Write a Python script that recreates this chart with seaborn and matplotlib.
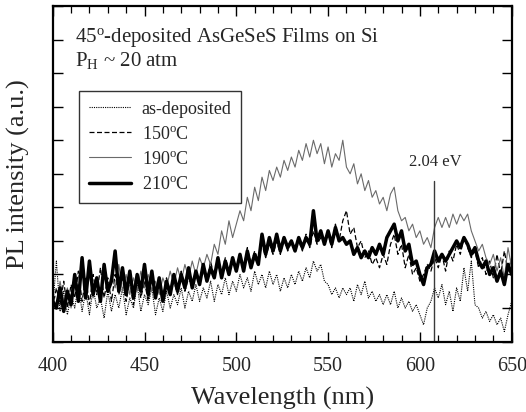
import numpy as np
import pandas as pd
import matplotlib
matplotlib.use("Agg")
import matplotlib.pyplot as plt
from matplotlib.ticker import MultipleLocator
import seaborn as sns

# Wavelength grid (nm), 2 nm steps
wavelength = np.arange(400, 651, 2)

# PL spectra (arbitrary units)
as_deposited = [
    1.0, 2.4, 0.9, 1.5, 0.8, 1.4, 1.0, 1.7, 0.9, 1.5, 0.8, 1.6, 1.0, 1.3, 0.7, 1.5,
    0.9, 1.4, 1.0, 1.6, 0.8, 1.3, 1.0, 1.7, 0.9, 1.4, 1.1, 1.6, 0.8, 1.3, 0.9, 1.5,
    1.0, 1.4, 1.1, 1.6, 1.0, 1.5, 1.2, 1.7, 1.2, 1.6, 1.3, 1.8, 1.2, 1.7, 1.4, 1.9,
    1.4, 1.8, 1.5, 2.0, 1.6, 1.9, 1.5, 2.1, 1.7, 2.0, 1.6, 2.1, 1.7, 2.0, 1.5, 1.9,
    1.6, 2.0, 1.7, 2.1, 1.8, 2.2, 1.9, 2.4, 2.1, 2.3, 1.8, 1.7, 1.4, 1.6, 1.3, 1.6,
    1.4, 1.6, 1.2, 1.7, 1.4, 1.8, 1.3, 1.5, 1.2, 1.4, 1.1, 1.4, 1.1, 1.5, 1.0, 1.3,
    1.0, 1.2, 0.9, 1.1, 0.8, 0.5, 1.0, 1.2, 1.6, 1.3, 1.7, 1.1, 1.5, 0.9, 1.6, 1.2,
    2.2, 1.5, 2.4, 1.1, 1.0, 0.7, 0.9, 0.6, 0.8, 0.5, 0.7, 0.3, 0.8, 1.2,
]
t150 = [
    1.0, 1.6, 1.1, 1.8, 1.0, 1.7, 1.3, 2.1, 1.2, 1.9, 1.1, 2.0, 1.4, 2.2, 1.3, 1.9,
    1.2, 2.0, 1.4, 1.9, 1.2, 1.8, 1.1, 1.9, 1.3, 1.8, 1.2, 1.9, 1.4, 1.7, 1.3, 1.9,
    1.5, 1.8, 1.4, 2.1, 1.5, 1.9, 1.6, 2.0, 1.7, 2.1, 1.8, 2.4, 1.9, 2.3, 2.0, 2.5,
    2.1, 2.4, 2.2, 2.5, 2.2, 2.8, 2.3, 2.7, 2.4, 2.9, 2.5, 2.9, 2.6, 3.0, 2.6, 3.1,
    2.7, 3.0, 2.8, 3.0, 2.7, 3.2, 2.8, 3.3, 2.9, 3.1, 3.0, 3.2, 2.8, 3.5, 3.0, 3.6,
    3.9, 3.2, 3.4, 2.8, 3.0, 2.5, 2.7, 2.3, 2.5, 2.2, 2.6, 2.3, 2.9, 3.2, 2.6, 2.9,
    2.2, 2.6, 2.0, 2.2, 1.8, 2.0, 2.3, 2.1, 2.5, 2.2, 2.6, 2.1, 2.7, 2.4, 2.9, 2.6,
    3.1, 2.8, 2.5, 2.7, 2.2, 2.5, 2.0, 2.4, 1.9, 2.6, 2.0, 2.7, 2.1, 2.5,
]
t190 = [
    1.4, 1.0, 1.8, 1.2, 1.6, 1.0, 1.9, 1.3, 2.2, 1.5, 2.0, 1.3, 1.8, 1.4, 2.1, 1.6,
    2.0, 1.6, 2.3, 1.5, 2.0, 1.4, 1.9, 1.5, 2.1, 1.6, 2.0, 1.5, 1.8, 1.4, 1.9, 1.6,
    2.1, 1.7, 2.2, 1.8, 2.3, 1.9, 2.4, 2.0, 2.5, 2.2, 2.6, 2.3, 2.9, 2.6, 3.3, 2.9,
    3.6, 3.1, 3.5, 3.9, 3.6, 4.3, 3.9, 4.6, 4.2, 4.9, 4.5, 5.1, 4.8, 5.2, 4.9, 5.4,
    5.1, 5.5, 5.2, 5.7, 5.4, 5.9, 5.5, 6.0, 5.6, 5.9, 5.3, 5.8, 5.2, 5.6, 5.4, 6.0,
    5.2, 5.0, 5.3, 4.7, 5.0, 4.5, 4.8, 4.3, 4.5, 4.1, 4.3, 3.9, 4.4, 4.6, 3.9, 3.6,
    3.7, 3.3, 3.5, 3.1, 3.3, 2.9, 3.1, 2.8, 3.4, 3.7, 3.4, 3.7, 3.4, 3.8, 3.5, 3.8,
    3.6, 3.8, 3.3, 3.0, 2.7, 2.9, 2.5, 2.3, 2.6, 2.1, 2.5, 1.9, 2.8, 2.2,
]
t210 = [
    1.2, 1.0, 1.6, 0.9, 1.5, 1.1, 2.0, 1.2, 2.5, 1.3, 2.4, 1.4, 1.9, 1.2, 2.3, 1.5,
    1.8, 2.7, 1.5, 2.2, 1.4, 2.1, 1.3, 2.0, 1.5, 2.3, 1.4, 2.1, 1.3, 1.9, 1.2, 1.8,
    1.4, 2.0, 1.5, 2.0, 1.6, 2.2, 1.6, 2.1, 1.7, 2.3, 1.8, 2.2, 1.9, 2.5, 1.9, 2.4,
    2.0, 2.5, 2.1, 2.6, 2.1, 2.7, 2.2, 2.6, 2.3, 3.2, 2.6, 3.1, 2.7, 3.2, 2.7, 3.1,
    2.8, 3.0, 2.7, 3.1, 2.8, 3.1, 2.9, 3.9, 3.0, 3.3, 2.9, 3.3, 2.9, 3.4, 3.0, 3.1,
    2.9, 3.0, 2.6, 2.8, 2.5, 2.7, 2.5, 2.8, 2.6, 2.9, 2.6, 3.1, 3.3, 3.5, 3.0, 3.3,
    2.7, 2.9, 2.3, 2.4, 2.0, 1.7, 2.2, 2.3, 2.7, 2.4, 2.6, 2.4, 2.6, 2.8, 3.0, 2.8,
    3.1, 2.9, 2.6, 2.8, 2.4, 2.2, 2.4, 2.0, 2.2, 1.8, 2.1, 1.7, 2.3, 2.0,
]

series_labels = ["as-deposited", "150$^\\mathregular{o}$C", "190$^\\mathregular{o}$C", "210$^\\mathregular{o}$C"]

# Marker energy and its wavelength (nm)
gap_energy_ev = 2.04
gap_wavelength = 1240.0 / gap_energy_ev

sns.set_style("ticks")
plt.rcParams["font.family"] = ["Liberation Serif", "DejaVu Serif"]
plt.rcParams["mathtext.fontset"] = "custom"
plt.rcParams["mathtext.rm"] = "Liberation Serif"
plt.rcParams["mathtext.default"] = "regular"

fig = plt.figure(figsize=(5.26, 4.12), dpi=100)
ax = fig.add_axes([0.1002, 0.1709, 0.8726, 0.8145])

styles = [
    dict(color="black", linestyle=(0, (1, 1)), linewidth=0.8),
    dict(color="black", linestyle=(0, (4, 2)), linewidth=0.9),
    dict(color="#6a6a6a", linestyle="-", linewidth=0.8),
    dict(color="black", linestyle="-", linewidth=2.5),
]
for values, label, st in zip([as_deposited, t150, t190, t210], series_labels, styles):
    df = pd.DataFrame({"wavelength": wavelength, "pl": values})
    sns.lineplot(data=df, x="wavelength", y="pl", ax=ax, label=label, **st)

# 2.04 eV marker
ax.plot([gap_wavelength, gap_wavelength], [0, 4.8], color="#3a3a3a", linewidth=1.0)
ax.text(gap_wavelength + 0.5, 5.35, f"{gap_energy_ev:.2f} eV", ha="center", va="center", fontsize=12)

ax.text(411.9, 9.05, "45$^\\mathregular{o}$-deposited AsGeSeS Films on Si", ha="left", va="center", fontsize=15)
ax.text(411.9, 8.37, "P$_{H}$ ~ 20 atm", ha="left", va="center", fontsize=15)

ax.set_xlim(400, 650)
ax.set_ylim(0, 10)
ax.xaxis.set_major_locator(MultipleLocator(50))
ax.xaxis.set_minor_locator(MultipleLocator(10))
ax.yaxis.set_major_locator(MultipleLocator(1))
ax.set_yticklabels([])
ax.tick_params(axis="both", which="both", direction="in", top=True, right=True, color="black")
ax.tick_params(axis="both", which="major", length=7, width=1.0)
ax.tick_params(axis="both", which="minor", length=5, width=0.9)
ax.tick_params(axis="x", which="major", labelsize=14.5, pad=11)
for sp in ax.spines.values():
    sp.set_linewidth(1.6)
    sp.set_color("black")

ax.set_xlabel("Wavelength (nm)", fontsize=19, va="center")
ax.set_ylabel("PL intensity (a.u.)", fontsize=19, va="center")
ax.xaxis.set_label_coords(0.5, -0.168)
ax.yaxis.set_label_coords(-0.0745, 0.5)

leg = ax.legend(loc="upper left", bbox_to_anchor=(0.058, 0.748), borderaxespad=0,
                frameon=True, fancybox=False, fontsize=13, handlelength=2.3,
                handletextpad=0.6, labelspacing=0.45, borderpad=0.55)
leg.get_frame().set_edgecolor("black")
leg.get_frame().set_linewidth(1.0)

fig.savefig("out.png", dpi=100)
